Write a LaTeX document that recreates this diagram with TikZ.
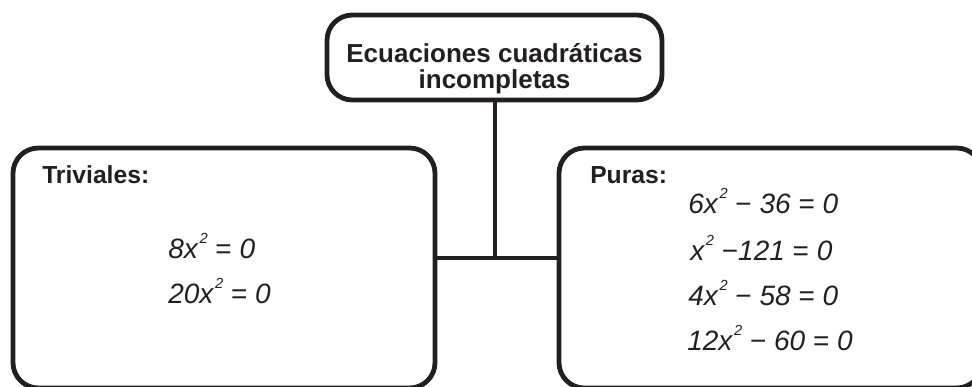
\documentclass[tikz,border=0pt]{standalone}
\usepackage{fontspec}
\setmainfont{Liberation Sans}
\usetikzlibrary{positioning}
\definecolor{ink}{RGB}{35,31,32}
\tikzset{
  box/.style={draw=ink, line width=3.6pt, rounded corners=19pt, inner sep=0pt},
  link/.style={draw=ink, line width=3pt},
  title/.style={font=\bfseries\fontsize{19.5}{24}\selectfont, text=ink, anchor=base, inner sep=0pt},
  head/.style={font=\bfseries\fontsize{18.5}{22}\selectfont, text=ink, anchor=base west, inner sep=0pt},
  eqn/.style={font=\itshape\fontsize{21}{24}\selectfont, text=ink, anchor=base west, inner sep=0pt}
}
\newcommand{\sq}{x\hspace{0.06em}\raisebox{0.52em}{\fontsize{11}{11}\selectfont 2}}

\begin{document}
\begin{tikzpicture}[x=0.75pt,y=-0.75pt]
  \useasboundingbox (0,0) rectangle (972,386);
  \clip (0,0) rectangle (972,386);
  % boxes (sizes in pt = 0.75 px)
  \node[box, minimum width=251.25pt, minimum height=63.75pt] (top) at (494.5,57.5) {};
  \node[box, minimum width=316.5pt, minimum height=180pt] (triv) at (224,268) {};
  \node[box, minimum width=317.25pt, minimum height=180pt] (pur) at (770.5,268) {};
  \node[title] (t1) at (494.5,62) {Ecuaciones cuadráticas};
  \node[title] (t2) at (494.5,88) {incompletas};
  % connectors
  \coordinate (hub) at (494.5,258);
  \draw[link] (top.south) -- (hub);
  \draw[link] (triv.east |- hub) -- (pur.west |- hub);
  % left box
  \node[head] (trivh) at (42,183) {Triviales:};
  \node[eqn] (e1) at (168,258) {8\sq{} \textup{=} 0};
  \node[eqn] (e2) at (168,303) {20\sq{} \textup{=} 0};
  % right box
  \node[head] (purh) at (590,183) {Puras:};
  \node[eqn] (p1) at (688,213) {6\sq{} \textup{−} 36 \textup{=} 0};
  \node[eqn] (p2) at (690,260) {\sq{} \textup{−}121 \textup{=} 0};
  \node[eqn] (p3) at (688,305) {4\sq{} \textup{−} 58 \textup{=} 0};
  \node[eqn] (p4) at (687,350) {12\sq{} \textup{−} 60 \textup{=} 0};
\end{tikzpicture}
\end{document}
